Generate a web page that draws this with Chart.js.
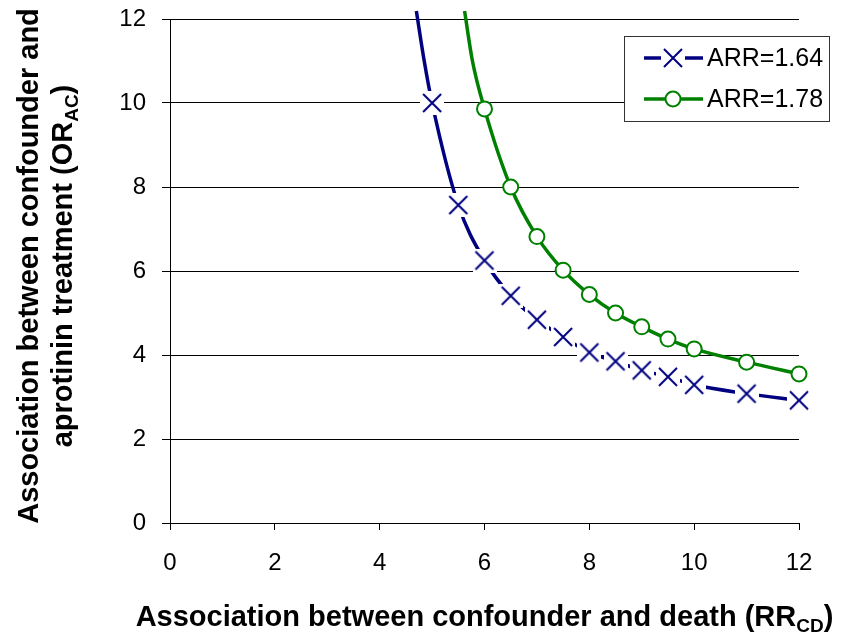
<!DOCTYPE html>
<html>
<head>
<meta charset="utf-8">
<script src="https://cdn.jsdelivr.net/npm/chart.js@4.4.0/dist/chart.umd.min.js"></script>
<style>
  html, body { margin: 0; padding: 0; background: #ffffff; }
  #wrap { width: 843px; height: 637px; position: relative; }
</style>
</head>
<body>
<div id="wrap"><canvas id="c" width="843" height="637"></canvas></div>
<script>
// ---- data ----
const seriesLabels = ['ARR=1.64', 'ARR=1.78'];
const rrBlue  = [4.70, 4.85, 5.0, 5.5, 6.0, 6.5, 7.0, 7.5, 8.0, 8.5, 9.0, 9.5, 10.0, 11.0, 12.0];
const orBlue  = [12.19, 11.0, 10.0, 7.57, 6.25, 5.41, 4.84, 4.43, 4.06, 3.85, 3.635, 3.48, 3.29, 3.08, 2.92];
const rrGreen = [5.62, 5.77, 6.0, 6.5, 7.0, 7.5, 8.0, 8.5, 9.0, 9.5, 10.0, 11.0, 12.0];
const orGreen = [12.19, 11.0, 9.86, 8.0, 6.82, 6.02, 5.44, 5.0, 4.67, 4.38, 4.145, 3.83, 3.55];
const xTicks = [0, 2, 4, 6, 8, 10, 12];
const yTicks = [0, 2, 4, 6, 8, 10, 12];
const xTitle = ['Association between confounder and death (RR', 'CD', ')'];
const yTitle1 = 'Association between confounder and';
const yTitle2 = ['aprotinin treatment (OR', 'AC', ')'];

// ---- styles ----
const NAVY = '#000080';
const GREEN = '#008000';
const FONT = "'Liberation Sans', Arial, Helvetica, sans-serif";

function makeXMarker() {
  const c = document.createElement('canvas');
  c.width = 24; c.height = 24;
  const g = c.getContext('2d');
  g.fillStyle = '#ffffff';
  g.fillRect(0, 0, 24, 24);
  g.strokeStyle = NAVY;
  g.lineWidth = 2;
  g.beginPath();
  g.moveTo(3, 3); g.lineTo(21, 21);
  g.moveTo(21, 3); g.lineTo(3, 21);
  g.stroke();
  return c;
}
const xMarker = makeXMarker();

const toPts = (xs, ys) => xs.map((x, i) => ({ x: x, y: ys[i] }));

function drawRich(ctx, parts, cx, baseline, big, small, subDy) {
  const sizes = parts.map((p, i) => (i === 1 ? small : big));
  let total = 0;
  const widths = parts.map((p, i) => {
    ctx.font = 'bold ' + sizes[i] + 'px ' + FONT;
    const w = ctx.measureText(p).width;
    total += w;
    return w;
  });
  let x = cx - total / 2;
  ctx.textAlign = 'left';
  ctx.textBaseline = 'alphabetic';
  parts.forEach((p, i) => {
    ctx.font = 'bold ' + sizes[i] + 'px ' + FONT;
    ctx.fillText(p, x, baseline + (i === 1 ? subDy : 0));
    x += widths[i];
  });
}

const overlayPlugin = {
  id: 'overlay',
  afterDraw(chart) {
    const ctx = chart.ctx;
    const ca = chart.chartArea;
    ctx.save();
    ctx.fillStyle = '#000000';
    // x axis title
    drawRich(ctx, xTitle, (ca.left + ca.right) / 2, 626, 29, 19, 6);
    // y axis title (two lines, rotated)
    const cy = 266;
    ctx.save();
    ctx.translate(38, cy);
    ctx.rotate(-Math.PI / 2);
    ctx.font = 'bold 29px ' + FONT;
    ctx.textAlign = 'center';
    ctx.textBaseline = 'alphabetic';
    ctx.fillText(yTitle1, 0, 0);
    ctx.restore();
    ctx.save();
    ctx.translate(72, cy);
    ctx.rotate(-Math.PI / 2);
    drawRich(ctx, yTitle2, 0, 0, 29, 19, 6);
    ctx.restore();

    // legend box
    const lx = 624.5, ly = 36.5, lw = 205, lh = 85;
    ctx.fillStyle = '#ffffff';
    ctx.fillRect(lx, ly, lw, lh);
    ctx.strokeStyle = '#333333';
    ctx.lineWidth = 1;
    ctx.strokeRect(lx, ly, lw, lh);
    const rows = [58, 99];
    // blue
    ctx.strokeStyle = NAVY; ctx.lineWidth = 3.5;
    ctx.beginPath(); ctx.moveTo(644, rows[0]); ctx.lineTo(703, rows[0]); ctx.stroke();
    ctx.drawImage(xMarker, 673 - 12, rows[0] - 12);
    // green
    ctx.strokeStyle = GREEN; ctx.lineWidth = 3.5;
    ctx.beginPath(); ctx.moveTo(644, rows[1]); ctx.lineTo(703, rows[1]); ctx.stroke();
    ctx.beginPath(); ctx.arc(673, rows[1], 7.5, 0, Math.PI * 2);
    ctx.fillStyle = '#ffffff'; ctx.fill();
    ctx.lineWidth = 2; ctx.strokeStyle = GREEN; ctx.stroke();
    ctx.fillStyle = '#000000';
    ctx.font = '25px ' + FONT;
    ctx.textAlign = 'left';
    ctx.textBaseline = 'middle';
    ctx.fillText(seriesLabels[0], 707, rows[0] + 1);
    ctx.fillText(seriesLabels[1], 707, rows[1] + 1);
    ctx.restore();
  }
};

Chart.defaults.font.family = FONT;
Chart.defaults.color = '#000000';

new Chart(document.getElementById('c'), {
  type: 'line',
  data: {
    datasets: [
      {
        label: seriesLabels[0],
        data: toPts(rrBlue, orBlue),
        borderColor: NAVY,
        borderWidth: 3.5,
        cubicInterpolationMode: 'monotone',
        pointStyle: xMarker,
        pointRadius: c => (c.raw && c.raw.y > 10.5 ? 0 : 9),
        pointHoverRadius: 0,
        clip: false,
        fill: false,
        order: 1
      },
      {
        label: seriesLabels[1],
        data: toPts(rrGreen, orGreen),
        borderColor: GREEN,
        borderWidth: 3.5,
        cubicInterpolationMode: 'monotone',
        pointStyle: 'circle',
        pointRadius: c => (c.raw && c.raw.y > 10.5 ? 0 : 7.5),
        pointBorderWidth: 2,
        pointBackgroundColor: '#ffffff',
        pointBorderColor: GREEN,
        pointHoverRadius: 0,
        clip: false,
        fill: false,
        order: 2
      }
    ]
  },
  options: {
    responsive: false,
    animation: false,
    events: [],
    layout: { padding: { left: 0, top: 19, right: 44, bottom: 0 } },
    plugins: { legend: { display: false }, tooltip: { enabled: false }, title: { display: false } },
    scales: {
      x: {
        type: 'linear',
        min: 0, max: 12,
        afterBuildTicks: s => { s.ticks = xTicks.map(v => ({ value: v })); },
        afterFit: s => { s.height = 114; s.paddingLeft = 0; s.paddingRight = 0; },
        ticks: { font: { size: 24 }, color: '#000', padding: 19, maxRotation: 0 },
        grid: { drawOnChartArea: false, drawTicks: true, tickLength: 7, color: '#000', lineWidth: 1 },
        border: { display: true, color: '#000', width: 1 }
      },
      y: {
        type: 'linear',
        min: 0, max: 12,
        afterBuildTicks: s => { s.ticks = yTicks.map(v => ({ value: v })); },
        afterFit: s => { s.width = 170; s.paddingTop = 0; s.paddingBottom = 0; },
        ticks: { font: { size: 24 }, color: '#000', padding: 16 },
        grid: { drawOnChartArea: true, drawTicks: true, tickLength: 8, color: '#000', lineWidth: 1 },
        border: { display: true, color: '#000', width: 1 }
      }
    }
  },
  plugins: [overlayPlugin]
});
</script>
</body>
</html>
